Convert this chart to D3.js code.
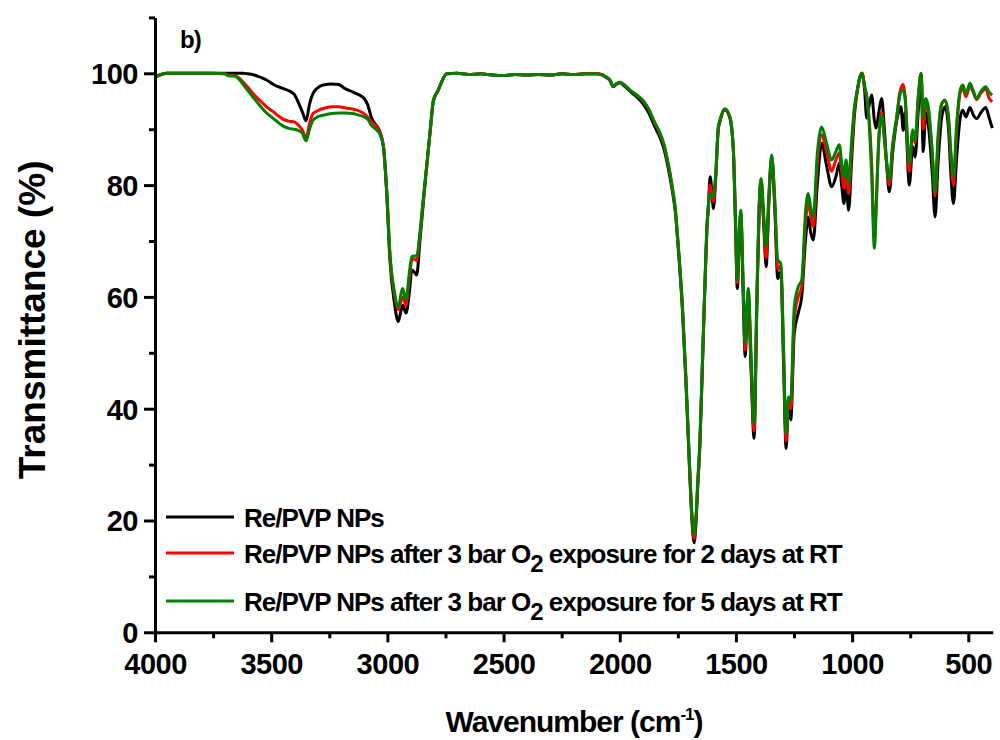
<!DOCTYPE html>
<html>
<head>
<meta charset="utf-8">
<script src="https://cdn.jsdelivr.net/npm/d3@7"></script>
<style>
  body { margin: 0; background: #fff; }
  svg { display: block; }
</style>
</head>
<body>
<svg id="chart"></svg>
<script>
// wavenumber grid (cm-1), shared by the three spectra
const wavenumbers = [4000,3980,3950,3900,3850,3800,3750,3700,3680,3660,3640,3620,3600,3580,3560,3540,3520,3490,3470,3450,3420,3400,3380,3365,3350,3335,3320,3300,3276,3240,3210,3180,3150,3130,3100,3085,3067,3050,3035,3017,3003,2989,2970,2953,2940,2934,2920,2905,2895,2885,2874,2860,2845,2831,2815,2802,2781,2765,2745,2700,2650,2600,2550,2500,2450,2400,2350,2300,2250,2200,2150,2100,2080,2060,2042,2028,2012,1999,1980,1956,1930,1899,1875,1855,1830,1812,1795,1784,1770,1762,1748,1730,1715,1700,1690,1680,1672,1665,1655,1645,1635,1625,1618,1611,1604,1597,1586,1576,1569,1548,1526,1511,1502,1494,1486,1479,1470,1460,1453,1447,1435,1422,1410,1400,1392,1380,1370,1358,1346,1333,1320,1307,1295,1284,1274,1264,1249,1232,1217,1200,1189,1178,1167,1150,1131,1110,1088,1070,1055,1045,1035,1026,1015,1002,990,980,966,957,947,937,928,916,904,897,885,873,862,851,840,825,808,797,790,780,772,754,739,729,715,703,694,683,670,655,643,630,615,600,585,575,564,550,535,524,510,493,478,464,445,425,410,397];

// Re/PVP NPs (black)
const reNPs = [99.3,99.7,100,100,100,100,100,100,100,100,100,100,99.9,99.8,99.5,99.2,98.8,98.0,97.6,97.3,96.8,96.2,94.5,93.0,91.5,94.5,96.4,97.4,97.9,98.1,98.0,97.2,96.7,96.3,95.5,94.4,91.9,90.8,89.8,86.9,78.6,66.6,59.0,55.6,57.8,58.5,57.1,61.0,64.8,64.5,63.9,70.0,77.0,83.3,90.0,95.0,97.0,98.6,99.9,100,99.8,99.9,99.7,99.6,99.8,99.7,99.8,99.7,99.9,99.8,99.9,99.9,99.8,99.3,98.7,97.6,98.1,98.3,97.7,96.8,95.9,94.5,92.9,91.0,88.8,86.8,83.8,81.4,78.0,75.6,68.5,57.5,44.5,29.5,20.5,16.0,19.5,25.5,33.5,46.5,60.0,72.0,76.5,81.5,79.0,75.8,82.0,90.0,91.3,93.5,92.0,86.0,73.0,61.5,70.0,74.5,62.0,49.3,56.0,60.0,47.0,34.7,58.0,75.5,80.5,72.5,65.4,77.0,84.8,76.0,63.3,64.5,48.0,32.9,40.5,38.0,53.5,57.1,60.0,70.5,74.3,71.5,70.2,80.0,87.5,83.5,79.7,81.5,83.9,80.0,76.7,80.5,75.5,84.5,92.5,96.2,99.3,100,97.5,92.0,94.0,96.1,91.5,90.2,93.0,95.5,90.5,83.5,78.8,86.0,91.5,93.5,94.0,89.8,93.0,80.0,86.9,85.0,93.5,99.5,86.0,93.0,90.0,82.0,74.3,84.0,92.0,94.0,90.0,82.0,76.7,85.0,92.0,93.4,92.2,93.9,92.5,91.9,93.0,93.9,92.0,90.2];

// after 3 bar O2, 2 days (red)
const reNPs2days = [99.3,99.7,100,100,100,100,100,99.9,99.6,99.6,99.2,98.4,97.5,96.5,95.6,94.8,94.0,93.1,92.4,91.8,91.4,91.3,90.6,89.8,88.4,91.0,92.8,93.3,93.7,94.0,94.0,93.8,93.6,93.4,92.8,92.2,91.3,90.6,89.6,86.9,79.0,67.5,60.5,57.7,59.4,60.0,58.5,63.5,66.5,66.8,66.5,71.0,77.5,83.3,90.0,95.2,97.0,98.6,99.9,100,99.8,99.9,99.7,99.6,99.8,99.7,99.8,99.7,99.9,99.8,99.9,99.9,99.8,99.4,98.8,97.7,98.2,98.4,97.9,97.0,96.2,95.0,93.5,91.6,89.5,87.5,84.5,82.1,78.5,76.1,69.0,58.0,45.0,30.0,21.0,16.8,20.2,26.0,34.0,47.0,60.0,72.0,76.5,80.0,78.5,77.0,82.5,90.2,91.5,93.6,92.2,86.3,74.0,62.5,71.0,75.0,63.5,50.5,57.0,61.0,48.5,36.0,59.0,76.0,81.0,73.5,67.0,78.0,85.2,77.0,65.0,65.5,49.5,34.2,41.5,40.0,56.0,60.0,61.8,73.5,77.0,74.5,72.5,83.5,89.0,86.0,82.5,84.5,85.8,82.5,79.5,83.0,78.5,86.5,93.5,96.4,99.4,100,97.8,95.5,92.5,84.0,70.0,76.0,88.5,93.0,89.0,83.5,80.0,87.0,92.0,96.0,97.3,98.0,96.0,82.5,89.5,87.5,96.0,100,90.0,95.0,92.5,86.0,78.0,88.0,94.5,95.2,92.0,85.0,80.0,90.0,96.5,97.3,95.8,97.7,96.5,95.3,96.5,97.2,95.5,94.9];

// after 3 bar O2, 5 days (green)
const reNPs5days = [99.3,99.7,100,100,100,100,100,99.9,99.5,99.5,99.0,98.0,96.9,95.8,94.8,93.8,92.9,91.9,91.2,90.6,90.1,90.0,89.7,89.2,87.9,90.0,91.6,92.2,92.5,92.8,92.9,92.9,92.8,92.6,92.2,91.8,90.6,90.0,89.3,86.9,79.2,67.8,61.0,58.2,60.8,61.5,59.4,64.5,67.2,67.3,67.3,71.4,77.8,83.3,90.0,95.2,97.0,98.6,99.9,100,99.8,99.9,99.7,99.6,99.8,99.7,99.8,99.7,99.9,99.8,99.9,99.9,99.8,99.4,98.8,97.7,98.2,98.4,97.9,97.0,96.2,95.1,93.6,91.7,89.6,87.6,84.6,82.2,78.6,76.3,69.2,58.3,45.5,30.6,21.7,17.5,20.8,26.6,34.5,47.5,60.5,72.5,76.7,78.5,78.0,78.0,82.7,90.4,91.6,93.6,92.2,86.3,74.5,63.0,71.5,75.5,64.5,51.7,58.0,61.5,50.0,37.4,60.0,76.5,81.2,74.5,69.0,78.5,85.4,77.5,66.6,66.0,51.0,35.6,42.1,41.6,58.2,61.8,63.0,75.5,78.5,76.0,74.3,85.5,90.4,87.5,84.5,86.0,87.2,84.0,81.5,84.5,80.3,88.1,94.0,96.4,99.4,100,97.8,96.0,92.0,82.0,68.7,75.0,88.0,92.5,88.5,84.0,80.9,87.5,92.2,95.5,96.7,97.0,95.5,83.9,89.9,88.0,96.0,100,92.0,95.5,93.5,85.5,78.8,89.0,94.5,95.2,92.0,86.0,81.5,91.0,97.0,97.9,96.4,98.2,96.8,95.5,96.8,97.6,96.6,96.1];

const seriesColors = ['#000000', '#ff0000', '#008000'];
const xMajorTicks = [4000, 3500, 3000, 2500, 2000, 1500, 1000, 500];
const xMinorTicks = [3750, 3250, 2750, 2250, 1750, 1250, 750];
const yMajorTicks = [0, 20, 40, 60, 80, 100];
const yMinorTicks = [10, 30, 50, 70, 90, 110];

class SpectrumChart {

  constructor(_config, _series) {
    this.config = {
      parentElement: _config.parentElement,
      containerWidth: _config.containerWidth || 1000,
      containerHeight: _config.containerHeight || 740,
      margin: {top: 17.4, right: 7.3, bottom: 107.7, left: 155}
    }
    this.series = _series;
    this.initVis();
  }

  initVis() {
    let vis = this;
    const m = vis.config.margin;
    vis.width = vis.config.containerWidth - m.left - m.right;
    vis.height = vis.config.containerHeight - m.top - m.bottom;

    vis.svg = d3.select(vis.config.parentElement)
      .attr('width', vis.config.containerWidth)
      .attr('height', vis.config.containerHeight)
      .style('font-family', '"Liberation Sans", Arial, sans-serif')
      .style('font-weight', 'bold');

    vis.svg.append('rect')
      .attr('width', vis.config.containerWidth)
      .attr('height', vis.config.containerHeight)
      .attr('fill', '#fff');

    vis.xScale = d3.scaleLinear()
      .domain([4000, 395])
      .range([m.left, m.left + vis.width]);

    vis.yScale = d3.scaleLinear()
      .domain([0, 110])
      .range([m.top + vis.height, m.top]);

    vis.renderVis();
  }

  renderVis() {
    let vis = this;
    const bottom = vis.yScale(0);
    const left = vis.xScale(4000);

    // spectra, black drawn first and green on top
    const line = d3.line()
      .x(d => vis.xScale(d[0]))
      .y(d => vis.yScale(d[1]))
      .curve(d3.curveMonotoneX);

    vis.svg.selectAll('.spectrum')
      .data(vis.series)
      .join('path')
      .attr('class', 'spectrum')
      .attr('fill', 'none')
      .attr('stroke', d => d.color)
      .attr('stroke-width', 3)
      .attr('stroke-linejoin', 'round')
      .attr('d', d => line(wavenumbers.map((w, i) => [w, d.values[i]])));

    // x axis
    vis.svg.append('g')
      .attr('transform', `translate(0, ${bottom})`)
      .call(d3.axisBottom(vis.xScale).tickValues(xMajorTicks).tickFormat(d3.format('d'))
        .tickSize(10).tickSizeOuter(0).tickPadding(11));
    vis.svg.append('g')
      .attr('transform', `translate(0, ${bottom})`)
      .call(d3.axisBottom(vis.xScale).tickValues(xMinorTicks).tickSize(6).tickSizeOuter(0).tickFormat(''))
      .select('.domain').remove();

    // y axis
    const yAxis = vis.svg.append('g')
      .attr('transform', `translate(${left}, 0)`)
      .call(d3.axisLeft(vis.yScale).tickValues(yMajorTicks).tickFormat(d3.format('d'))
        .tickSize(11).tickSizeOuter(0).tickPadding(6));
    vis.svg.append('g')
      .attr('transform', `translate(${left}, 0)`)
      .call(d3.axisLeft(vis.yScale).tickValues(yMinorTicks).tickSize(6).tickSizeOuter(0).tickFormat(''))
      .select('.domain').remove();

    vis.svg.selectAll('.domain, .tick line')
      .attr('stroke', '#000')
      .attr('stroke-width', 3);

    vis.svg.selectAll('.tick text')
      .attr('fill', '#000')
      .style('font-family', '"Liberation Sans", Arial, sans-serif')
      .style('font-weight', 'bold')
      .style('font-size', '29px')
      .style('letter-spacing', '-0.5px');
    yAxis.selectAll('.tick text').attr('dy', '0.36em');

    // axis titles
    vis.svg.append('text')
      .attr('transform', `translate(45, ${vis.yScale(55) - 5}) rotate(-90)`)
      .attr('text-anchor', 'middle')
      .style('font-size', '37px')
      .text('Transmittance (%)');

    const xTitle = vis.svg.append('text')
      .attr('x', 574)
      .attr('y', 732)
      .attr('text-anchor', 'middle')
      .style('font-size', '30px')
      .style('letter-spacing', '-1px');
    xTitle.append('tspan').text('Wavenumber (cm');
    xTitle.append('tspan').attr('dy', -12).style('font-size', '17px').text('-1');
    xTitle.append('tspan').attr('dy', 12).text(')');

    // panel label
    vis.svg.append('text')
      .attr('x', 180)
      .attr('y', 48)
      .style('font-size', '24px')
      .style('letter-spacing', '-1px')
      .text('b)');

    // legend
    const rowY = [527, 563, 611];
    const legend = vis.svg.append('g');
    vis.series.forEach((s, i) => {
      legend.append('line')
        .attr('x1', 166).attr('x2', 234)
        .attr('y1', rowY[i] - 10).attr('y2', rowY[i] - 10)
        .attr('stroke', s.color)
        .attr('stroke-width', 3);
      const t = legend.append('text')
        .attr('x', 244)
        .attr('y', rowY[i])
        .style('font-size', '26px')
        .style('letter-spacing', '-1px');
      if (s.sub) {
        t.append('tspan').text(s.label[0]);
        t.append('tspan').attr('dy', 9).style('font-size', '24px').text(s.sub);
        t.append('tspan').attr('dy', -9).text(s.label[1]);
      } else {
        t.text(s.label[0]);
      }
    });
  }
}

const series = [
  {color: seriesColors[0], values: reNPs, label: ['Re/PVP NPs']},
  {color: seriesColors[1], values: reNPs2days, label: ['Re/PVP NPs after 3 bar O', ' exposure for 2 days at RT'], sub: '2'},
  {color: seriesColors[2], values: reNPs5days, label: ['Re/PVP NPs after 3 bar O', ' exposure for 5 days at RT'], sub: '2'}
];

new SpectrumChart({parentElement: '#chart', containerWidth: 1000, containerHeight: 740}, series);
</script>
</body>
</html>
